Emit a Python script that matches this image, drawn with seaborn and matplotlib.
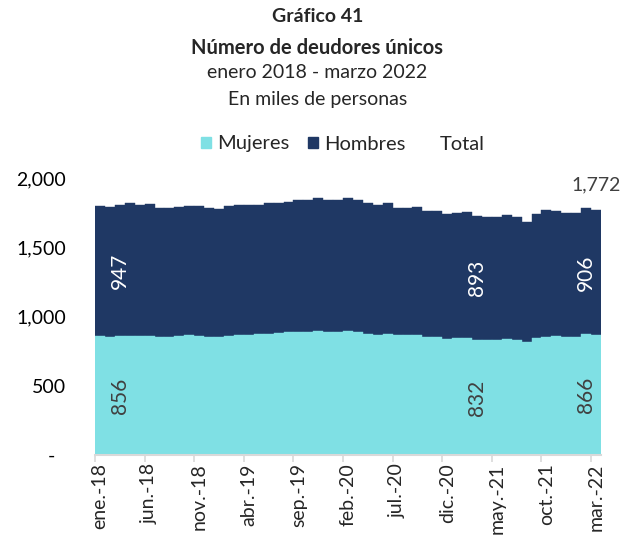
import numpy as np
import pandas as pd
import matplotlib.pyplot as plt
import seaborn as sns
from matplotlib.patches import Patch
from matplotlib.lines import Line2D

# Datos mensuales (miles de personas), ene-2018 a mar-2022
meses = ['ene.', 'feb.', 'mar.', 'abr.', 'may.', 'jun.', 'jul.', 'ago.', 'sep.', 'oct.', 'nov.', 'dic.']
periodos = [f'{m}-{a}' for a in range(18, 23) for m in meses][:51]

mujeres = [858, 853, 856, 862, 858, 856, 851, 853, 859, 866, 861, 853, 849, 862, 866, 868, 871,
           877, 880, 885, 887, 890, 895, 891, 891, 892, 890, 875, 868, 871, 863, 863, 866, 851,
           851, 839, 842, 846, 832, 830, 830, 835, 832, 818, 844, 853, 858, 853, 853, 871, 866]
hombres = [941, 936, 947, 954, 948, 955, 933, 931, 935, 935, 940, 934, 926, 937, 938, 938, 937,
           941, 942, 943, 957, 954, 963, 953, 949, 960, 954, 945, 936, 945, 924, 924, 928, 912,
           912, 900, 902, 907, 893, 890, 892, 895, 888, 866, 895, 915, 905, 896, 891, 909, 906]

# etiquetas de datos mostradas
idx_etiquetas = [2, 38, 50]

df = pd.DataFrame({'periodo': periodos, 'Mujeres': mujeres, 'Hombres': hombres})
df['Total'] = df['Mujeres'] + df['Hombres']

c_muj = '#7FE0E4'
c_hom = '#1F3864'
gris = '#404040'

sns.set_style('white')
plt.rcParams['font.family'] = ['Lato', 'DejaVu Sans']

fig = plt.figure(figsize=(6.21, 5.35), dpi=100)
ax = fig.add_axes([95 / 621, 1 - 455 / 535, (601 - 95) / 621, (455 - 178) / 535])

# barras apiladas: total (hombres encima) y mujeres por debajo
sns.barplot(data=df, x='periodo', y='Total', color=c_hom, width=1.0, saturation=1,
            errorbar=None, edgecolor=c_hom, linewidth=0.3, ax=ax)
sns.barplot(data=df, x='periodo', y='Mujeres', color=c_muj, width=1.0, saturation=1,
            errorbar=None, edgecolor=c_muj, linewidth=0.3, ax=ax)

ax.set_xlim(-0.5, len(df) - 0.5)
ax.set_ylim(0, 2000)
ax.set_xlabel('')
ax.set_ylabel('')

ax.set_yticks([0, 500, 1000, 1500, 2000])
ax.set_yticklabels(['-  ', '500', '1,000', '1,500', '2,000'])
ax.tick_params(axis='y', length=0, pad=21, labelsize=14, labelcolor='black')

ax.set_xticks(range(0, len(df), 5))
ax.set_xticklabels(periodos[::5], rotation=90, fontsize=14)
ax.set_xticks(np.arange(-0.5, len(df) - 1, 5), minor=True)
ax.tick_params(axis='x', which='major', length=0, pad=6)
ax.tick_params(axis='x', which='minor', length=5, width=1.2, color='#D9D9D9', bottom=True)

for s in ['top', 'right', 'left']:
    ax.spines[s].set_visible(False)
ax.spines['bottom'].set_color('#D9D9D9')
ax.spines['bottom'].set_linewidth(1.5)

# etiquetas de datos
for i in idx_etiquetas:
    m = df['Mujeres'][i]
    h = df['Hombres'][i]
    ha = 'right' if i == len(df) - 1 else 'center'
    ax.text(i, m / 2, f'{m:,}', rotation=90, ha=ha, va='center', fontsize=15, color=gris)
    ax.text(i, m + h / 2, f'{h:,}', rotation=90, ha=ha, va='center', fontsize=15, color='white')

ult = len(df) - 1
ax.annotate(f"{df['Total'][ult]:,}", (ult, df['Total'][ult]), xytext=(0, 18),
            textcoords='offset points', ha='center', va='center', fontsize=14, color=gris)

# títulos
fig.text(0.511, 1 - 17 / 535, 'Gráfico 41', ha='center', va='center', fontsize=14, fontweight='bold')
fig.text(0.511, 1 - 48 / 535, 'Número de deudores únicos', ha='center', va='center',
         fontsize=14.5, fontweight='bold')
fig.text(0.511, 1 - 73 / 535, 'enero 2018 - marzo 2022', ha='center', va='center', fontsize=14)
fig.text(0.511, 1 - 100 / 535, 'En miles de personas', ha='center', va='center', fontsize=14)

handles = [Patch(color=c_muj), Patch(color=c_hom), Line2D([], [], color='none')]
fig.legend(handles, ['Mujeres', 'Hombres', 'Total'], loc='center', bbox_to_anchor=(0.552, 1 - 144 / 535),
           ncol=3, frameon=False, fontsize=14.5, handlelength=0.5, handleheight=0.5,
           handletextpad=0.3, columnspacing=0.9)

fig.savefig('out.png', dpi=100)
